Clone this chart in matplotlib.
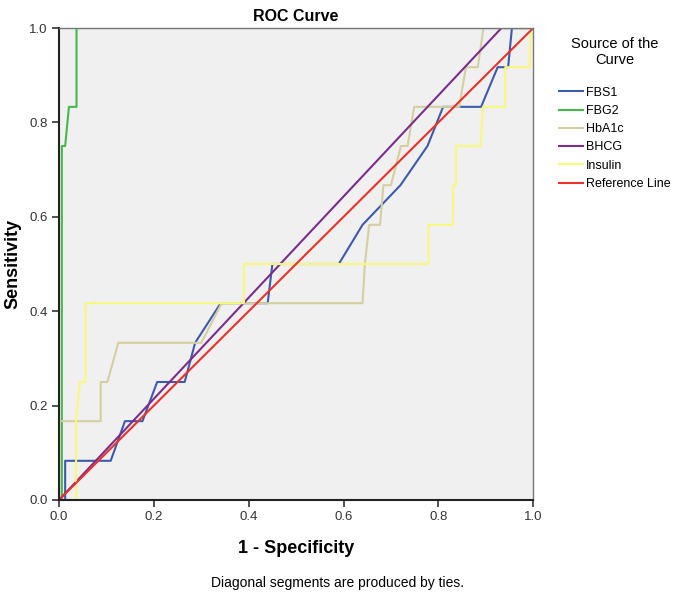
import matplotlib
matplotlib.use("Agg")
import matplotlib.pyplot as plt

plt.rcParams["font.family"] = ["Liberation Sans", "DejaVu Sans"]

# ---------- Data ----------

fbs1_x = [0, 0.013, 0.013, 0.109, 0.139, 0.176, 0.207, 0.265, 0.287, 0.341,
          0.44, 0.45, 0.59, 0.64, 0.72, 0.777, 0.81, 0.89, 0.925, 0.947,
          0.955, 1.0]
fbs1_y = [0, 0, 0.083, 0.083, 0.167, 0.167, 0.25, 0.25, 0.333, 0.417,
          0.417, 0.5, 0.5, 0.583, 0.667, 0.75, 0.833, 0.833, 0.917, 0.917,
          1.0, 1.0]

fbg2_x = [0, 0.006, 0.006, 0.013, 0.021, 0.037, 0.037, 1.0]
fbg2_y = [0, 0, 0.75, 0.75, 0.833, 0.833, 1.0, 1.0]

hba1c_x = [0, 0.001, 0.001, 0.088, 0.088, 0.102, 0.125, 0.30, 0.343, 0.64,
           0.645, 0.654, 0.677, 0.684, 0.70, 0.721, 0.735, 0.749, 0.844,
           0.858, 0.883, 0.895, 1.0]
hba1c_y = [0, 0, 0.167, 0.167, 0.25, 0.25, 0.333, 0.333, 0.417, 0.417,
           0.5, 0.583, 0.583, 0.667, 0.667, 0.75, 0.75, 0.833, 0.833,
           0.917, 0.917, 1.0, 1.0]

bhcg_x = [0, 0.933, 1.0]
bhcg_y = [0, 1.0, 1.0]

insulin_x = [0, 0.036, 0.036, 0.044, 0.056, 0.056, 0.39, 0.39, 0.779, 0.779,
             0.831, 0.831, 0.837, 0.837, 0.889, 0.894, 0.941, 0.941, 0.992,
             0.995, 1.0]
insulin_y = [0, 0, 0.167, 0.25, 0.25, 0.417, 0.417, 0.5, 0.5, 0.583,
             0.583, 0.667, 0.667, 0.75, 0.75, 0.833, 0.833, 0.917, 0.917,
             1.0, 1.0]

ref_x = [0, 1]
ref_y = [0, 1]

ticks = [0.0, 0.2, 0.4, 0.6, 0.8, 1.0]
tick_labels = ["0.0", "0.2", "0.4", "0.6", "0.8", "1.0"]


def main():
    fig = plt.figure(figsize=(6.75, 6), dpi=100)
    ax = fig.add_axes([0.0874, 0.1667, 0.7026, 0.7866])
    ax.set_facecolor("#f0f0f0")

    lw = 1.5
    ax.plot(fbs1_x, fbs1_y, color="#3d5aad", lw=lw, label="FBS1")
    ax.plot(fbg2_x, fbg2_y, color="#46b84b", lw=lw, label="FBG2")
    ax.plot(hba1c_x, hba1c_y, color="#d3cfa1", lw=lw, label="HbA1c")
    ax.plot(bhcg_x, bhcg_y, color="#7b2d8c", lw=lw, label="BHCG")
    ax.plot(insulin_x, insulin_y, color="#f8f87e", lw=lw, label="Insulin")
    ax.plot(ref_x, ref_y, color="#e8322a", lw=lw, label="Reference Line")

    ax.set_xlim(0, 1)
    ax.set_ylim(0, 1)
    ax.set_xticks(ticks)
    ax.set_xticklabels(tick_labels)
    ax.set_yticks(ticks)
    ax.set_yticklabels(tick_labels)
    ax.tick_params(direction="out", length=5, width=1.2, labelsize=9.5,
                   colors="#333333", pad=3)

    for side in ["left", "bottom"]:
        ax.spines[side].set_color("#222222")
        ax.spines[side].set_linewidth(1.5)
    for side in ["right", "top"]:
        ax.spines[side].set_color("#777777")
        ax.spines[side].set_linewidth(1.0)

    ax.set_title("ROC Curve", fontsize=11.5, fontweight="bold", pad=5)
    ax.set_xlabel("1 - Specificity", fontsize=13, fontweight="bold", labelpad=12)
    ax.set_ylabel("Sensitivity", fontsize=13, fontweight="bold", labelpad=6)

    leg = ax.legend(loc="upper left", bbox_to_anchor=(0.812, 0.957),
                    bbox_transform=fig.transFigure, frameon=False,
                    title="Source of the\nCurve", fontsize=9,
                    title_fontsize=10.5, handlelength=1.9, handletextpad=0.2,
                    labelspacing=0.5)
    leg._legend_box.align = "center"
    leg.get_title().set_multialignment("center")
    leg._legend_box.sep = 14

    fig.text(0.5, 0.028, "Diagonal segments are produced by ties.",
             ha="center", va="center", fontsize=10)

    fig.savefig("out.png", dpi=100)
    plt.close(fig)


if __name__ == "__main__":
    main()
